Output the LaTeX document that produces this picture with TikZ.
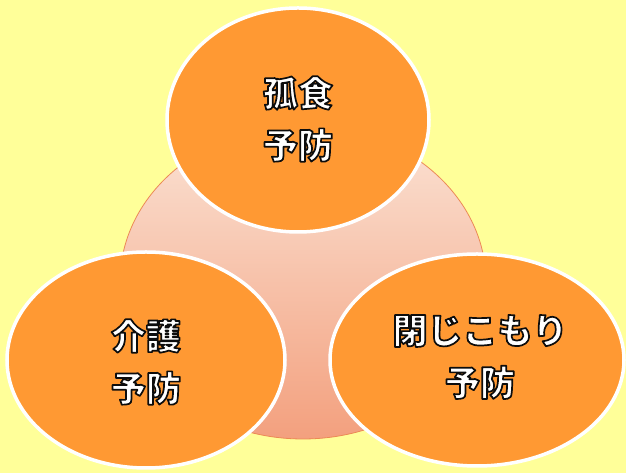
\documentclass[tikz,border=0pt]{standalone}
\usepackage{fontspec}
\newfontfamily\jp{Noto Sans CJK JP Black}
\definecolor{bg}{HTML}{FFFF99}
\definecolor{orangefill}{HTML}{FF9933}
\definecolor{ringline}{HTML}{EC8A55}
\definecolor{shtop}{HTML}{FBE3D5}
\definecolor{shbot}{HTML}{F3A07E}
\newcommand\outl[1]{{\special{pdf:code q 0.05 0.05 0.05 RG 1.7 w 1 j 2 Tr}#1\special{pdf:code Q}}}
\tikzset{
  petal/.style={ellipse, draw=white, line width=3.5pt, fill=orangefill, inner sep=0pt},
  lbl/.style={text=white, align=center, font=\jp\fontsize{35}{52}\selectfont},
}
\usetikzlibrary{shapes.geometric}
\begin{document}
\begin{tikzpicture}[x=1pt,y=1pt]
\fill[bg] (0,0) rectangle (626,473);
\useasboundingbox (0,0) rectangle (626,473);
\node[ellipse, minimum width=366pt, minimum height=314pt, inner sep=0pt,
      draw=ringline, line width=0.8pt, top color=shtop, bottom color=shbot] (ring) at (303,191) {};
\node[petal, minimum width=262pt, minimum height=224pt] (top) at (298,353) {};
\node[petal, minimum width=278pt, minimum height=216pt] (left) at (146,113) {};
\node[petal, minimum width=294pt, minimum height=212pt] (right) at (477,113) {};
\node[lbl] (ttop) at (298,354) {\outl{孤食}\\\outl{予防}};
\node[lbl] (tleft) at (146,111) {\outl{介護}\\\outl{予防}};
\node[lbl] (tright) at (480,116) {\outl{閉じこもり}\\\outl{予防}};
\end{tikzpicture}
\end{document}
